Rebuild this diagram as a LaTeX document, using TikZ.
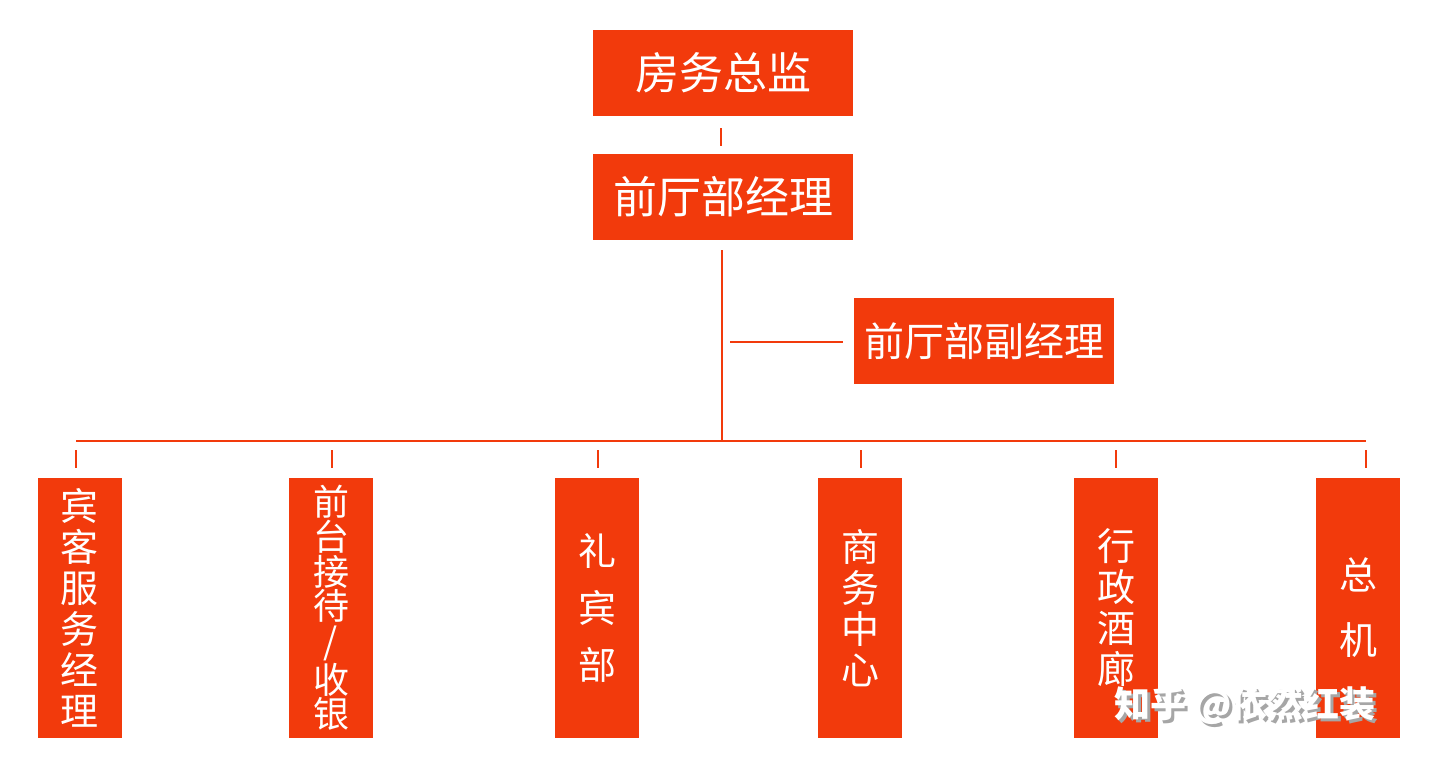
\documentclass[tikz,border=0pt]{standalone}
\usepackage{fontspec}
\setmainfont{Noto Sans CJK SC}
\definecolor{org}{HTML}{F23A0C}
\begin{document}
\begin{tikzpicture}[x=0.5pt,y=-0.5pt,
 box/.style={fill=org,text=white,inner sep=0,font=\fontsize{22}{26}\selectfont},
 ln/.style={draw=org,line width=1.1pt}]
\useasboundingbox (0,0) rectangle (1440,766);
\node[box,minimum width=130pt,minimum height=43pt] (a) at (723,73) {房务总监};
\node[box,minimum width=130pt,minimum height=43pt] (b) at (723,197) {前厅部经理};
\node[box,minimum width=130pt,minimum height=43pt,font=\fontsize{20}{24}\selectfont] (c) at (984,341) {前厅部副经理};
\coordinate (a1) at (721,128); \coordinate (a2) at (721,146);
\draw[ln] (a1)--(a2);
\coordinate (v1) at (722,250); \coordinate (v2) at (722,441);
\draw[ln] (v1)--(v2);
\coordinate (h1) at (730,342); \coordinate (h2) at (843,342);
\draw[ln] (h1)--(h2);
\coordinate (L) at (76,441); \coordinate (R) at (1366,441);
\draw[ln] (L)--(R);
\tikzset{vb/.style={box,minimum width=42pt,minimum height=130pt,font=\fontsize{19}{20.5}\selectfont,align=center}}
\foreach \n/\x/\tx/\t in {p1/80/76/{宾\\客\\服\\务\\经\\理}, p3/597/598/{礼\\[8pt]宾\\[8pt]部}, p4/860/861/{商\\务\\中\\心}, p5/1116/1116/{行\\政\\酒\\廊}, p6/1358/1366/{总\\[12pt]机}}{
 \node[vb] (\n) at (\x,608) {\t};
 \coordinate (t\n) at (\tx,450);
 \draw[ln] (t\n) -- ++(0,18);
}
\node[vb,font=\fontsize{18}{17.3}\selectfont] (p2) at (331,608) {前\\台\\接\\待\\{/}\\收\\银};
\coordinate (tp2) at (332,450);
\draw[ln] (tp2) -- ++(0,18);
\node[text=gray!70,font=\fontsize{18}{20}\selectfont\bfseries] (ws) at (1248,708) {知乎 @依然红装};
\node[text=white,font=\fontsize{18}{20}\selectfont\bfseries] (w) at (1245,705) {知乎 @依然红装};
\end{tikzpicture}
\end{document}
